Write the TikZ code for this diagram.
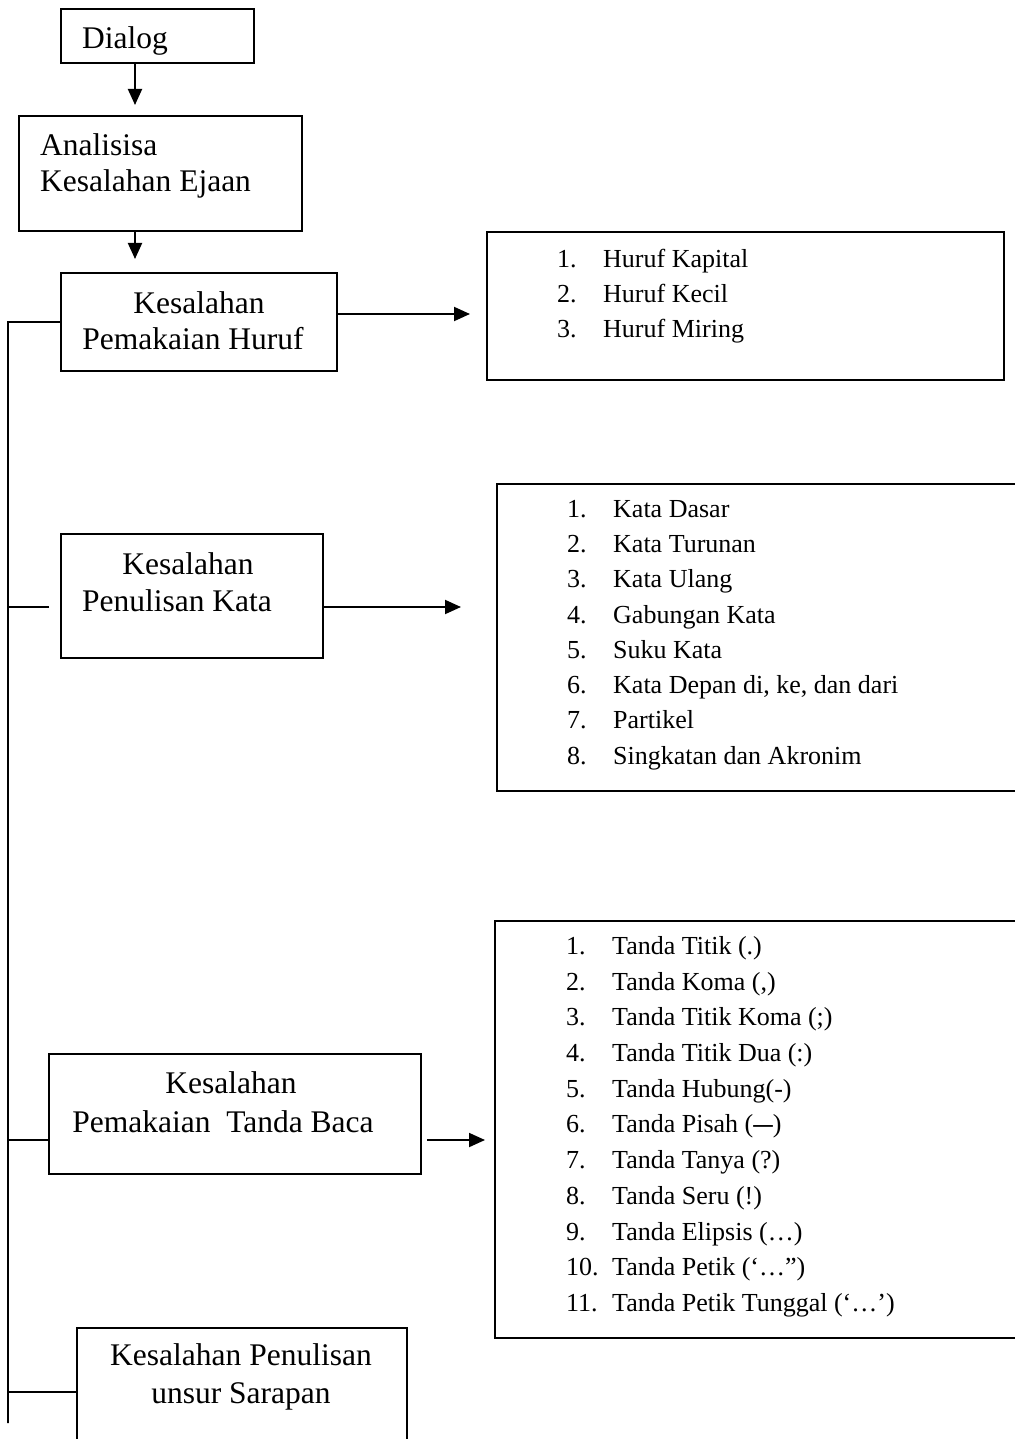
\documentclass[tikz,border=0pt]{standalone}
\usepackage{fontspec}
\usepackage{graphicx}
\setmainfont{Liberation Serif}
\usetikzlibrary{arrows.meta}

\tikzset{
	box/.style={draw,line width=1.9pt,inner sep=0pt,anchor=north west},
	boxtext/.style={font=\fontsize{31.5}{36}\selectfont,inner sep=0pt,anchor=base},
	item/.style={font=\fontsize{26}{30}\selectfont,inner sep=0pt,anchor=base west},
	link/.style={line width=1.9pt},
	arr/.style={line width=1.9pt,-{Triangle[length=16pt,width=14pt]}}
}
\newcommand{\num}[1]{\makebox[46pt][l]{#1}}

\begin{document}
\begin{tikzpicture}[x=1pt,y=-1pt]
	\useasboundingbox (0,0) rectangle (1014,1439);
	% main column
	\node[box,minimum width=193pt,minimum height=54pt] (dialog) at (60,8) {};
	\node[boxtext,anchor=base west] (dialogT) at (82,49) {Dialog};
	\node[box,minimum width=283pt,minimum height=115pt] (analisa) at (18,115) {};
	\node[boxtext,anchor=base west] (analisaA) at (40,156) {Analisisa};
	\node[boxtext,anchor=base west] (analisaB) at (40,192) {Kesalahan Ejaan};
	\node[box,minimum width=276pt,minimum height=98pt] (huruf) at (60,272) {};
	\node[boxtext] (hurufA) at (199,313) {Kesalahan};
	\node[boxtext] (hurufB) at (193,349) {Pemakaian Huruf};
	\node[box,minimum width=262pt,minimum height=124pt] (kata) at (60,533) {};
	\node[boxtext] (kataA) at (188,574) {Kesalahan};
	\node[boxtext] (kataB) at (177,611) {Penulisan Kata};
	\node[box,minimum width=372pt,minimum height=120pt] (baca) at (48,1053) {};
	\node[boxtext] (bacaA) at (231,1093) {Kesalahan};
	\node[boxtext] (bacaB) at (223,1132) {Pemakaian~ Tanda Baca};
	\node[box,minimum width=330pt,minimum height=150pt] (sarapan) at (76,1327) {};
	\node[boxtext] (sarapanA) at (241,1365) {Kesalahan Penulisan};
	\node[boxtext] (sarapanB) at (241,1403) {unsur Sarapan};

	% lists
	\node[box,minimum width=517pt,minimum height=148pt] (hurufList) at (486,231) {};
	\node[item] (h1) at (557,267) {\num{1.}Huruf Kapital};
	\node[item] (h2) at (557,302) {\num{2.}Huruf Kecil};
	\node[item] (h3) at (557,337) {\num{3.}Huruf Miring};

	\node[box,minimum width=560pt,minimum height=307pt] (kataList) at (496,483) {};
	\node[item] (k1) at (567,517) {\num{1.}Kata Dasar};
	\node[item] (k2) at (567,552) {\num{2.}Kata Turunan};
	\node[item] (k3) at (567,587) {\num{3.}Kata Ulang};
	\node[item] (k4) at (567,623) {\num{4.}Gabungan Kata};
	\node[item] (k5) at (567,658) {\num{5.}Suku Kata};
	\node[item] (k6) at (567,693) {\num{6.}Kata Depan di, ke, dan dari};
	\node[item] (k7) at (567,728) {\num{7.}Partikel};
	\node[item] (k8) at (567,764) {\num{8.}Singkatan dan Akronim};

	\node[box,minimum width=560pt,minimum height=417pt] (bacaList) at (494,920) {};
	\node[item] (t1) at (566,954) {\num{1.}Tanda Titik (.)};
	\node[item] (t2) at (566,990) {\num{2.}Tanda Koma (,)};
	\node[item] (t3) at (566,1025) {\num{3.}Tanda Titik Koma (;)};
	\node[item] (t4) at (566,1061) {\num{4.}Tanda Titik Dua (:)};
	\node[item] (t5) at (566,1097) {\num{5.}Tanda Hubung(-)};
	\node[item] (t6) at (566,1132) {\num{6.}Tanda Pisah (\scalebox{0.75}[1]{\bfseries —})};
	\node[item] (t7) at (566,1168) {\num{7.}Tanda Tanya (?)};
	\node[item] (t8) at (566,1204) {\num{8.}Tanda Seru (!)};
	\node[item] (t9) at (566,1240) {\num{9.}Tanda Elipsis (…)};
	\node[item] (t10) at (566,1275) {\num{10.}Tanda Petik (‘…”)};
	\node[item] (t11) at (566,1311) {\num{11.}Tanda Petik Tunggal (‘…’)};

	% connectors
	\coordinate (axis) at (135,0);
	\coordinate (spineTop) at (8,322);
	\coordinate (spineEnd) at (8,1423);
	\coordinate (kataStub) at (49,607);
	\coordinate (bacaStub) at (48,1140);
	\coordinate (sarapanStub) at (76,1392);
	\coordinate (hurufOut) at (336,314);
	\coordinate (bacaOut) at (427,1140);
	\draw[arr,shorten >=10pt] (dialog.south -| axis) -- (analisa.north -| axis);
	\draw[arr,shorten >=13pt] (analisa.south -| axis) -- (huruf.north -| axis);
	\draw[link] (huruf.west) -- (spineTop) -- (spineEnd);
	\draw[link] (kataStub) -- (kataStub -| spineTop);
	\draw[link] (bacaStub) -- (bacaStub -| spineTop);
	\draw[link] (sarapanStub) -- (sarapanStub -| spineTop);
	\draw[arr,shorten >=16pt] (hurufOut) -- (hurufList.west |- hurufOut);
	\draw[arr,shorten >=35pt] (kata.east |- kataStub) -- (kataList.west |- kataStub);
	\draw[arr,shorten >=9pt] (bacaOut) -- (bacaList.west |- bacaOut);
\end{tikzpicture}
\end{document}
